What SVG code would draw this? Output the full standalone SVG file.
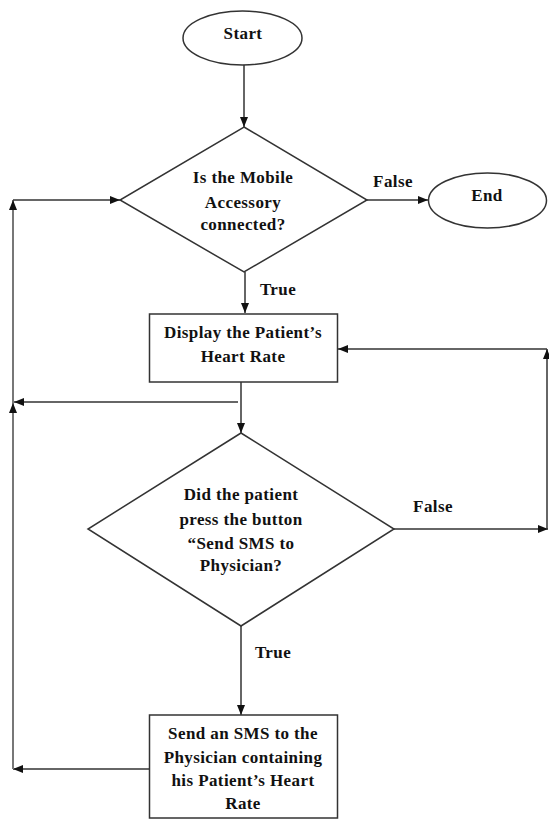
<svg xmlns="http://www.w3.org/2000/svg" width="549" height="820" viewBox="0 0 549 820">
<style>
.sh{fill:#fff;stroke:#333;stroke-width:1.5}
.t{font-family:'Liberation Serif','Times New Roman',serif;font-weight:700;font-size:17px;letter-spacing:0.4px;fill:#111;text-anchor:middle}
.c{fill:none;stroke:#333;stroke-width:1.5}
.g{fill:none;stroke:#777;stroke-width:2}
</style>
<defs>
<marker id="ah" viewBox="0 0 10 10" refX="10" refY="5" markerWidth="10" markerHeight="10" markerUnits="userSpaceOnUse" orient="auto">
<path d="M0,1 L10,5 L0,9 Z" fill="#111"/>
</marker>
</defs>
<g id="connectors">
<line class="c" x1="244" y1="65" x2="244" y2="127" marker-end="url(#ah)"/>
<line class="c" x1="367" y1="200" x2="428" y2="200" marker-end="url(#ah)"/>
<line class="c" x1="245" y1="272" x2="245" y2="313" marker-end="url(#ah)"/>
<line class="c" x1="241" y1="382" x2="241" y2="433" marker-end="url(#ah)"/>
<line class="c" x1="238" y1="402" x2="14" y2="402" marker-end="url(#ah)"/>
<line class="c" x1="241" y1="626" x2="241" y2="715" marker-end="url(#ah)"/>
<line class="c" x1="394" y1="529" x2="548" y2="529" marker-end="url(#ah)"/>
<line class="c" x1="547" y1="529" x2="547" y2="349" marker-end="url(#ah)"/>
<line class="c" x1="547" y1="349" x2="338" y2="349" marker-end="url(#ah)"/>
<line class="c" x1="149" y1="769" x2="13" y2="769" marker-end="url(#ah)"/>
<line class="g" x1="13" y1="769" x2="13" y2="403" marker-end="url(#ah)"/>
<line class="g" x1="13" y1="403" x2="13" y2="200" marker-end="url(#ah)"/>
<line class="c" x1="13" y1="200" x2="120" y2="200" marker-end="url(#ah)"/>
</g>
<g id="start">
<ellipse class="sh" cx="242.5" cy="38" rx="59.5" ry="27"/>
<text class="t" x="243" y="39">Start</text>
</g>
<g id="decision1">
<polygon class="sh" points="244,127 367,200 244,272 120,200"/>
<text class="t" x="243" y="183">Is the Mobile</text>
<text class="t" x="243" y="208">Accessory</text>
<text class="t" x="243" y="230">connected?</text>
</g>
<g id="end">
<ellipse class="sh" cx="487.5" cy="200.5" rx="59" ry="27.5"/>
<text class="t" x="487" y="201">End</text>
</g>
<g id="display">
<rect class="sh" x="149.5" y="314" width="188" height="68"/>
<text class="t" x="243" y="338">Display the Patient’s</text>
<text class="t" x="243" y="362">Heart Rate</text>
</g>
<g id="decision2">
<polygon class="sh" points="241,433 394,529 241,626 88,529"/>
<text class="t" x="241" y="500">Did the patient</text>
<text class="t" x="241" y="525">press the button</text>
<text class="t" x="241" y="549">“Send SMS to</text>
<text class="t" x="241" y="571">Physician?</text>
</g>
<g id="send">
<rect class="sh" x="149.5" y="715" width="188" height="103"/>
<text class="t" x="243" y="739">Send an SMS to the</text>
<text class="t" x="243" y="763">Physician containing</text>
<text class="t" x="243" y="786">his Patient’s Heart</text>
<text class="t" x="243" y="809">Rate</text>
</g>
<g id="labels">
<text class="t" x="393" y="187">False</text>
<text class="t" x="278" y="295">True</text>
<text class="t" x="433" y="512">False</text>
<text class="t" x="273" y="658">True</text>
</g>
</svg>
